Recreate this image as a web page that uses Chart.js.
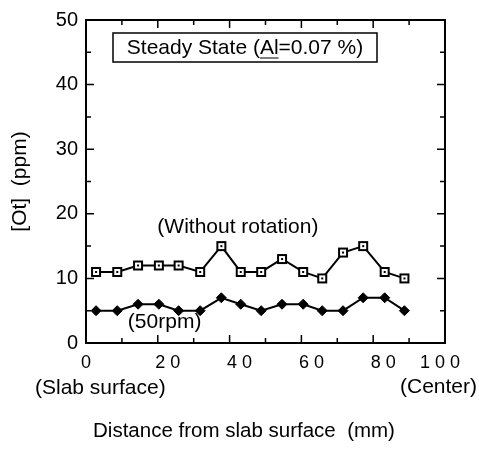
<!DOCTYPE html>
<html>
<head>
<meta charset="utf-8">
<script src="https://cdn.jsdelivr.net/npm/chart.js@4/dist/chart.umd.min.js"></script>
<style>
  html, body { margin: 0; padding: 0; background: #fff; }
  #wrap { width: 479px; height: 449px; }
</style>
</head>
<body>
<div id="wrap"><canvas id="chart"></canvas></div>
<script>
// distance from slab surface (mm)
const distances = [2.8, 8.7, 14.5, 20.3, 25.8, 31.8, 37.7, 43.1, 48.8, 54.6, 60.5, 65.8, 71.6, 77.2, 83.2, 88.7];
// [Ot] (ppm)
const withoutRotation = [11, 11, 12, 12, 12, 11, 15, 11, 11, 13, 11, 10, 14, 15, 11, 10];
const rpm50 = [5, 5, 6, 6, 5, 5, 7, 6, 5, 6, 6, 5, 5, 7, 7, 5];
// tick labels as printed (x every 20 mm, y every 10 ppm)
const xTickLabels = ['0', '2 0', '4 0', '6 0', '8 0', '1 0 0'];
const yTickLabels = ['0', '10', '20', '30', '40', '50'];

const FONT = '"Liberation Sans", Arial, sans-serif';
Chart.defaults.font.family = FONT;
Chart.defaults.color = '#000';

// open square with a dot in the middle
function squareMarker() {
    const c = document.createElement('canvas');
    c.width = 12; c.height = 12;
    const g = c.getContext('2d');
    g.fillStyle = '#fff';
    g.fillRect(1, 1, 10, 10);
    g.strokeStyle = '#000';
    g.lineWidth = 2;
    g.strokeRect(2, 2, 8, 8);
    g.fillStyle = '#000';
    g.fillRect(5, 5, 2, 2);
    return c;
}

function pairs(ys) {
    return ys.map((y, i) => ({ x: distances[i], y: y }));
}

// frame, inward ticks and the loose texts
const extras = {
    id: 'extras',
    afterDraw(chart) {
        const ctx = chart.ctx;
        const a = chart.chartArea;
        const xs = chart.scales.x, ys = chart.scales.y;
        ctx.save();
        ctx.strokeStyle = '#000';
        ctx.lineWidth = 2;
        ctx.strokeRect(a.left, a.top, a.right - a.left, a.bottom - a.top);

        ctx.lineWidth = 1.5;
        ctx.beginPath();
        ys.ticks.forEach(t => {
            if (t.value <= 0 || t.value >= 50) return;
            const py = ys.getPixelForValue(t.value);
            const len = t.value % 10 === 0 ? 8 : 5;
            ctx.moveTo(a.left, py); ctx.lineTo(a.left + len, py);
            ctx.moveTo(a.right, py); ctx.lineTo(a.right - len, py);
        });
        xs.ticks.forEach(t => {
            if (t.value <= 0 || t.value >= 100) return;
            const px = xs.getPixelForValue(t.value);
            const len = t.value % 20 === 0 ? 8 : 5;
            ctx.moveTo(px, a.bottom); ctx.lineTo(px, a.bottom - len);
            ctx.moveTo(px, a.top); ctx.lineTo(px, a.top + len);
        });
        ctx.stroke();

        ctx.fillStyle = '#000';
        ctx.textBaseline = 'middle';

        // title box
        ctx.font = '21px ' + FONT;
        const bx = a.left + 27, by = a.top + 13, bw = 264, bh = 29;
        ctx.lineWidth = 1.5;
        ctx.strokeRect(bx, by, bw, bh);
        const title = 'Steady State (Al=0.07 %)';
        const tw = ctx.measureText(title).width;
        const tx = bx + (bw - tw) / 2, ty = by + bh / 2 + 1;
        ctx.textAlign = 'left';
        ctx.fillText(title, tx, ty);
        const pre = ctx.measureText('Steady State (').width;
        const al = ctx.measureText('Al').width;
        ctx.lineWidth = 1;
        ctx.beginPath();
        ctx.moveTo(tx + pre, ty + 9.5);
        ctx.lineTo(tx + pre + al, ty + 9.5);
        ctx.stroke();

        // series labels
        ctx.font = '21px ' + FONT;
        ctx.textAlign = 'center';
        ctx.fillText('(Without rotation)', xs.getPixelForValue(42.3), ys.getPixelForValue(18));
        ctx.fillText('(50rpm)', xs.getPixelForValue(21.9), ys.getPixelForValue(3.2));

        // axis notes and title
        ctx.textAlign = 'left';
        ctx.fillText('(Slab surface)', a.left - 51, a.bottom + 45);
        ctx.textAlign = 'right';
        ctx.fillText('(Center)', chart.width - 2, a.bottom + 44);
        ctx.font = '20.5px ' + FONT;
        ctx.textAlign = 'center';
        ctx.fillText('Distance from slab surface  (mm)', a.left + 158, a.bottom + 88);
        ctx.restore();
    }
};

new Chart(document.getElementById('chart'), {
    type: 'line',
    data: {
        datasets: [{
            label: 'Without rotation',
            data: pairs(withoutRotation),
            borderColor: '#000',
            borderWidth: 2,
            pointStyle: squareMarker(),
            pointRadius: 6,
            tension: 0
        }, {
            label: '50rpm',
            data: pairs(rpm50),
            borderColor: '#000',
            backgroundColor: '#000',
            borderWidth: 2,
            pointStyle: 'rectRot',
            pointRadius: 5,
            pointBorderWidth: 1,
            tension: 0
        }]
    },
    options: {
        responsive: true,
        maintainAspectRatio: false,
        animation: false,
        layout: { padding: { top: 15, right: 33, left: 0, bottom: 0 } },
        plugins: {
            legend: { display: false },
            tooltip: { enabled: false }
        },
        scales: {
            x: {
                type: 'linear',
                min: 0,
                max: 100,
                grid: { display: false, drawTicks: false },
                border: { display: false },
                ticks: {
                    stepSize: 10,
                    autoSkip: false,
                    maxRotation: 0,
                    padding: 9,
                    font: { size: 18 },
                    callback: v => {
                        if (v % 20 !== 0) return '';
                        const s = xTickLabels[v / 20];
                        if (v === 0) return s;
                        if (v === 100) return s + '  ';
                        return '    ' + s;
                    }
                },
                afterFit: s => { s.height = 106; }
            },
            y: {
                min: 0,
                max: 50,
                grid: { display: false, drawTicks: false },
                border: { display: false },
                title: {
                    display: true,
                    text: '[Ot]  (ppm)',
                    font: { size: 21 },
                    padding: { top: 8, bottom: 0 }
                },
                ticks: {
                    stepSize: 5,
                    autoSkip: false,
                    padding: 8,
                    font: { size: 20 },
                    callback: v => v % 10 === 0 ? yTickLabels[v / 10] : ''
                },
                afterFit: s => { s.width = 86; }
            }
        }
    },
    plugins: [extras]
});
</script>
</body>
</html>
